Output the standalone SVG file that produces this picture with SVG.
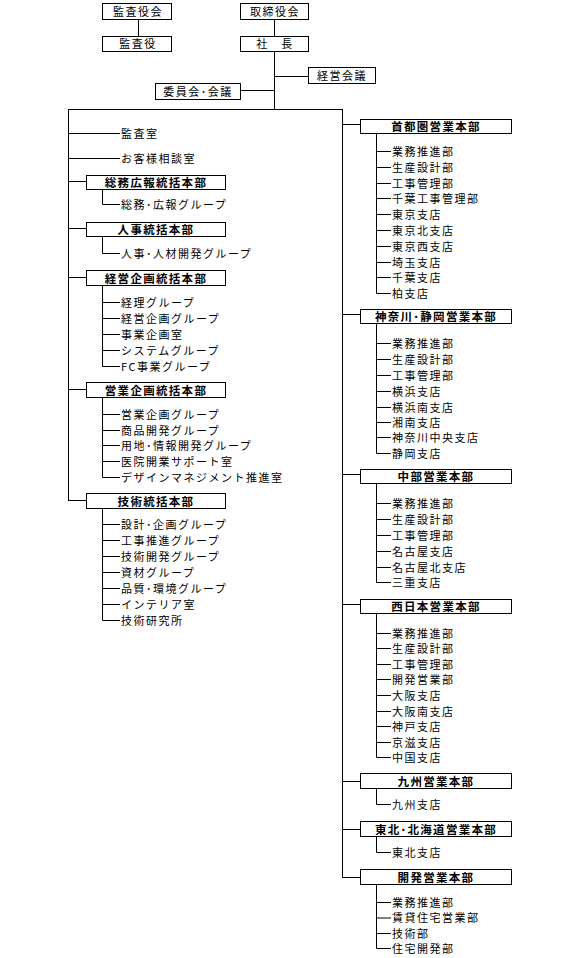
<svg xmlns="http://www.w3.org/2000/svg" width="581" height="958" viewBox="0 0 581 958">
<style>
.bx{fill:#fff;stroke:#000;stroke-width:1}
.ln{fill:none;stroke:#000;stroke-width:1}
text{font-family:"Noto Sans CJK JP","Noto Sans",sans-serif;font-size:11px;fill:#000}
.t{letter-spacing:1.5px}
.h{font-weight:bold;text-anchor:middle;letter-spacing:1.3px;font-size:11.5px}
.c{text-anchor:middle;letter-spacing:1.5px}
</style>
<rect width="581" height="958" fill="#fff"/>
<g id="connectors" class="ln">
<path d="M138.5 19V36M274.5 19V36M274.5 51V109.5M274 76.5H308.5M240 90.5H274M68.5 109.5H342.5M68.5 109V500.5M342.5 109V877.5"/>
<path d="M68 133.5H120M68 158.5H120M68 181.5H86M68 228.5H86M68 277.5H86M68 389.5H86M68 500.5H86"/>
<path d="M102.5 189V204.5H120M102.5 237V253.5H120"/>
<path d="M102.5 285V366.5H120M102.5 302.5H120M102.5 318.5H120M102.5 334.5H120M102.5 350.5H120"/>
<path d="M102.5 397V477.5H120M102.5 414.5H120M102.5 430.5H120M102.5 445.5H120M102.5 461.5H120"/>
<path d="M102.5 508V620.5H120M102.5 524.5H120M102.5 540.5H120M102.5 556.5H120M102.5 572.5H120M102.5 588.5H120M102.5 604.5H120"/>
<path d="M342 124.5H360M342 314.5H360M342 474.5H360M342 604.5H360M342 781.5H360M342 829.5H360M342 877.5H360"/>
<path d="M376.5 134V293.5H391M376.5 151.5H391M376.5 167.5H391M376.5 183.5H391M376.5 198.5H391M376.5 214.5H391M376.5 230.5H391M376.5 246.5H391M376.5 262.5H391M376.5 277.5H391"/>
<path d="M376.5 324V453.5H391M376.5 343.5H391M376.5 359.5H391M376.5 375.5H391M376.5 391.5H391M376.5 407.5H391M376.5 422.5H391M376.5 437.5H391"/>
<path d="M376.5 484V582.5H391M376.5 503.5H391M376.5 519.5H391M376.5 535.5H391M376.5 551.5H391M376.5 567.5H391"/>
<path d="M376.5 614V757.5H391M376.5 633.5H391M376.5 648.5H391M376.5 664.5H391M376.5 679.5H391M376.5 695.5H391M376.5 711.5H391M376.5 726.5H391M376.5 742.5H391"/>
<path d="M376.5 789V804.5H391M376.5 837V852.5H391"/>
<path d="M376.5 885V948.5H391M376.5 902.5H391M376.5 918H391M376.5 933.5H391"/>
</g>
<g id="kansayakukai"><rect class="bx" x="102.5" y="3.5" width="69" height="16"/><text class="c" x="138" y="15.5">監査役会</text></g>
<g id="kansayaku"><rect class="bx" x="102.5" y="36.5" width="69" height="15"/><text class="c" x="138" y="48">監査役</text></g>
<g id="torishimariyakukai"><rect class="bx" x="240.5" y="3.5" width="68" height="16"/><text class="c" x="275" y="15.5">取締役会</text></g>
<g id="shacho"><rect class="bx" x="240.5" y="36.5" width="68" height="15"/><text class="c" x="275" y="48">社　長</text></g>
<g id="keieikaigi"><rect class="bx" x="308.5" y="67.5" width="67" height="16"/><text class="c" x="342" y="79.5">経営会議</text></g>
<g id="iinkai"><rect class="bx" x="155.5" y="83.5" width="85" height="16"/><text class="c" x="198" y="95.5">委員会･会議</text></g>

<g id="kansashitsu"><text class="t" x="121" y="137.5">監査室</text></g>
<g id="okyakusama"><text class="t" x="121" y="162.5">お客様相談室</text></g>

<g id="somu"><rect class="bx" x="86.5" y="175.5" width="139" height="14"/><text class="h" x="156" y="187">総務広報統括本部</text>
<text class="t" x="121" y="208.5">総務･広報グループ</text></g>
<g id="jinji"><rect class="bx" x="86.5" y="222.5" width="139" height="14"/><text class="h" x="156" y="234">人事統括本部</text>
<text class="t" x="121" y="257.5">人事･人材開発グループ</text></g>
<g id="keieikikaku"><rect class="bx" x="86.5" y="270.5" width="139" height="15"/><text class="h" x="156" y="282.5">経営企画統括本部</text>
<text class="t" x="121" y="306.5">経理グループ</text>
<text class="t" x="121" y="322.5">経営企画グループ</text>
<text class="t" x="121" y="338.5">事業企画室</text>
<text class="t" x="121" y="354.5">システムグループ</text>
<text class="t" x="121" y="370.5">FC事業グループ</text></g>
<g id="eigyokikaku"><rect class="bx" x="86.5" y="382.5" width="139" height="15"/><text class="h" x="156" y="394.5">営業企画統括本部</text>
<text class="t" x="121" y="418.5">営業企画グループ</text>
<text class="t" x="121" y="434.5">商品開発グループ</text>
<text class="t" x="121" y="449.5">用地･情報開発グループ</text>
<text class="t" x="121" y="465.5">医院開業サポート室</text>
<text class="t" x="121" y="481.5">デザインマネジメント推進室</text></g>
<g id="gijutsu"><rect class="bx" x="86.5" y="493.5" width="139" height="15"/><text class="h" x="156" y="505.5">技術統括本部</text>
<text class="t" x="121" y="528.5">設計･企画グループ</text>
<text class="t" x="121" y="544.5">工事推進グループ</text>
<text class="t" x="121" y="560.5">技術開発グループ</text>
<text class="t" x="121" y="576.5">資材グループ</text>
<text class="t" x="121" y="592.5">品質･環境グループ</text>
<text class="t" x="121" y="608.5">インテリア室</text>
<text class="t" x="121" y="624.5">技術研究所</text></g>

<g id="shutoken"><rect class="bx" x="360.5" y="119.5" width="151" height="14"/><text class="h" x="436" y="131">首都圏営業本部</text>
<text class="t" x="392" y="155.5">業務推進部</text>
<text class="t" x="392" y="171.5">生産設計部</text>
<text class="t" x="392" y="187.5">工事管理部</text>
<text class="t" x="392" y="202.5">千葉工事管理部</text>
<text class="t" x="392" y="218.5">東京支店</text>
<text class="t" x="392" y="234.5">東京北支店</text>
<text class="t" x="392" y="250.5">東京西支店</text>
<text class="t" x="392" y="266.5">埼玉支店</text>
<text class="t" x="392" y="281.5">千葉支店</text>
<text class="t" x="392" y="297.5">柏支店</text></g>
<g id="kanagawa"><rect class="bx" x="360.5" y="309.5" width="151" height="14"/><text class="h" x="436" y="321">神奈川･静岡営業本部</text>
<text class="t" x="392" y="347.5">業務推進部</text>
<text class="t" x="392" y="363.5">生産設計部</text>
<text class="t" x="392" y="379.5">工事管理部</text>
<text class="t" x="392" y="395.5">横浜支店</text>
<text class="t" x="392" y="411.5">横浜南支店</text>
<text class="t" x="392" y="426.5">湘南支店</text>
<text class="t" x="392" y="441.5">神奈川中央支店</text>
<text class="t" x="392" y="457.5">静岡支店</text></g>
<g id="chubu"><rect class="bx" x="360.5" y="469.5" width="151" height="14"/><text class="h" x="436" y="481">中部営業本部</text>
<text class="t" x="392" y="507.5">業務推進部</text>
<text class="t" x="392" y="523.5">生産設計部</text>
<text class="t" x="392" y="539.5">工事管理部</text>
<text class="t" x="392" y="555.5">名古屋支店</text>
<text class="t" x="392" y="571.5">名古屋北支店</text>
<text class="t" x="392" y="586.5">三重支店</text></g>
<g id="nishinihon"><rect class="bx" x="360.5" y="599.5" width="151" height="14"/><text class="h" x="436" y="611">西日本営業本部</text>
<text class="t" x="392" y="637.5">業務推進部</text>
<text class="t" x="392" y="652.5">生産設計部</text>
<text class="t" x="392" y="668.5">工事管理部</text>
<text class="t" x="392" y="683.5">開発営業部</text>
<text class="t" x="392" y="699.5">大阪支店</text>
<text class="t" x="392" y="715.5">大阪南支店</text>
<text class="t" x="392" y="730.5">神戸支店</text>
<text class="t" x="392" y="746.5">京滋支店</text>
<text class="t" x="392" y="761.5">中国支店</text></g>
<g id="kyushu"><rect class="bx" x="360.5" y="773.5" width="151" height="15"/><text class="h" x="436" y="785.5">九州営業本部</text>
<text class="t" x="392" y="808.5">九州支店</text></g>
<g id="tohoku"><rect class="bx" x="360.5" y="821.5" width="151" height="15"/><text class="h" x="436" y="833.5">東北･北海道営業本部</text>
<text class="t" x="392" y="856.5">東北支店</text></g>
<g id="kaihatsu"><rect class="bx" x="360.5" y="869.5" width="151" height="15"/><text class="h" x="436" y="881.5">開発営業本部</text>
<text class="t" x="392" y="906.5">業務推進部</text>
<text class="t" x="392" y="922">賃貸住宅営業部</text>
<text class="t" x="392" y="937.5">技術部</text>
<text class="t" x="392" y="952.5">住宅開発部</text></g>
</svg>
